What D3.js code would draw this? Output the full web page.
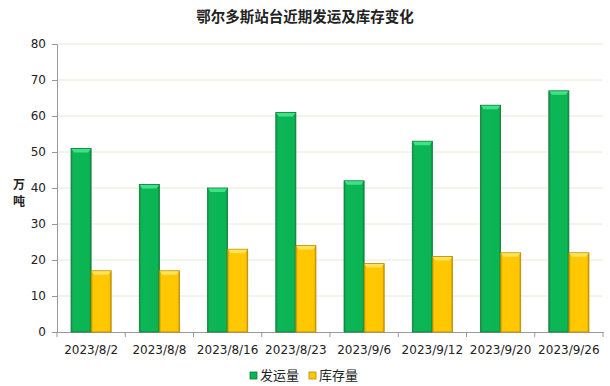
<!DOCTYPE html>
<html>
<head>
<meta charset="utf-8">
<script src="https://cdn.jsdelivr.net/npm/d3@7"></script>
<style>
  body { margin: 0; background: #fff; }
  text { font-family: "DejaVu Sans", "Noto Sans CJK SC", sans-serif; }
</style>
</head>
<body>
<svg id="chart" width="610" height="386"></svg>
<script>
var categories = ["2023/8/2", "2023/8/8", "2023/8/16", "2023/8/23", "2023/9/6", "2023/9/12", "2023/9/20", "2023/9/26"];
var shipped = [51, 41, 40, 61, 42, 53, 63, 67];
var stock = [17, 17, 23, 24, 19, 21, 22, 22];
var seriesNames = ["发运量", "库存量"];
var yTicks = [0, 10, 20, 30, 40, 50, 60, 70, 80];

var margin = { top: 44, right: 7, bottom: 54, left: 57 };
var width = 610 - margin.left - margin.right;
var height = 386 - margin.top - margin.bottom;

var svg = d3.select("#chart");
var defs = svg.append("defs");

function bevel(id, stops) {
  var g = defs.append("linearGradient").attr("id", id)
    .attr("x1", "0%").attr("x2", "100%").attr("y1", "0%").attr("y2", "0%");
  stops.forEach(function (s) {
    g.append("stop").attr("offset", s[0]).attr("stop-color", s[1]);
  });
}
bevel("gGreen", [["0%", "#0b8f40"], ["10%", "#0db556"], ["90%", "#0bb553"], ["100%", "#0a8a3d"]]);
bevel("gYellow", [["0%", "#c99a00"], ["10%", "#ffc800"], ["90%", "#ffc700"], ["100%", "#c79400"]]);

var colors = [
  { fill: "url(#gGreen)", top: "#3fe387", stroke: "#0b7a37", legend: "#0bb553" },
  { fill: "url(#gYellow)", top: "#ffe45a", stroke: "#b88a00", legend: "#ffc800" }
];

// title
svg.append("text")
  .attr("x", 305).attr("y", 22)
  .attr("text-anchor", "middle")
  .style("font-size", "14.5px").style("font-weight", "bold")
  .style("font-family", "'Noto Sans CJK SC', sans-serif")
  .attr("fill", "#222")
  .text("鄂尔多斯站台近期发运及库存变化");

var g = svg.append("g")
  .attr("transform", "translate(" + margin.left + "," + margin.top + ")");

var x = d3.scaleBand().domain(categories).range([0, width]).paddingInner(0).paddingOuter(0);
var x1 = d3.scaleBand().domain([0, 1]).range([0, x.bandwidth()]).paddingOuter(0.7).paddingInner(0);
var y = d3.scaleLinear().domain([0, 80]).range([height, 0]);

// gridlines
g.selectAll(".grid").data(yTicks.slice(1)).enter().append("line")
  .attr("x1", 0).attr("x2", width)
  .attr("y1", function (d) { return y(d); }).attr("y2", function (d) { return y(d); })
  .attr("stroke", "#e8e7d8").attr("stroke-width", 1);

// y axis
var yAxis = g.append("g").call(d3.axisLeft(y).tickValues(yTicks).tickSize(5).tickPadding(6));
yAxis.select(".domain").attr("stroke", "#999");
yAxis.selectAll(".tick line").attr("stroke", "#999");
yAxis.selectAll("text").style("font-size", "12px").attr("fill", "#222");

// x axis
var xAxis = g.append("g").attr("transform", "translate(0," + height + ")")
  .call(d3.axisBottom(x).tickSize(0).tickPadding(13));
xAxis.select(".domain").attr("stroke", "#999");
xAxis.selectAll("text").style("font-size", "12px").attr("fill", "#222");
g.selectAll(".xtick").data(d3.range(categories.length + 1)).enter().append("line")
  .attr("x1", function (i) { return i * x.step(); })
  .attr("x2", function (i) { return i * x.step(); })
  .attr("y1", height).attr("y2", height + 5)
  .attr("stroke", "#999");

// bars
var series = [shipped, stock];
series.forEach(function (vals, si) {
  var c = colors[si];
  var bars = g.selectAll(".bar" + si).data(vals).enter().append("g");
  bars.append("rect")
    .attr("x", function (d, i) { return x(categories[i]) + x1(si); })
    .attr("y", function (d) { return y(d); })
    .attr("width", x1.bandwidth())
    .attr("height", function (d) { return height - y(d); })
    .attr("fill", c.fill)
    .attr("stroke", c.stroke).attr("stroke-width", 0.8);
  bars.append("path")
    .attr("d", function (d, i) {
      var x0 = x(categories[i]) + x1(si), w = x1.bandwidth(), t = y(d);
      return "M" + (x0 + 0.5) + "," + (t + 0.5) + "L" + (x0 + w - 0.5) + "," + (t + 0.5) +
        "L" + (x0 + w - 3) + "," + (t + 4) + "L" + (x0 + 3) + "," + (t + 4) + "Z";
    })
    .attr("fill", c.top);
});

// y axis title
var yt = svg.append("text")
  .attr("x", 19).attr("y", 189)
  .attr("text-anchor", "middle")
  .style("font-size", "12px").style("font-weight", "bold")
  .style("font-family", "'Noto Sans CJK SC', sans-serif")
  .attr("fill", "#222");
yt.append("tspan").attr("x", 19).attr("dy", 0).text("万");
yt.append("tspan").attr("x", 19).attr("dy", 17).text("吨");

// legend
var legend = svg.append("g").attr("transform", "translate(250,377)");
seriesNames.forEach(function (name, i) {
  var lg = legend.append("g").attr("transform", "translate(" + (i * 59) + ",0)");
  lg.append("rect").attr("x", 0).attr("y", -5).attr("width", 7).attr("height", 7)
    .attr("fill", colors[i].legend).attr("stroke", colors[i].stroke).attr("stroke-width", 0.8);
  lg.append("text").attr("x", 10).attr("y", 3)
    .style("font-size", "13px")
    .style("font-family", "'Noto Sans CJK SC', sans-serif")
    .attr("fill", "#222").text(name);
});
</script>
</body>
</html>
